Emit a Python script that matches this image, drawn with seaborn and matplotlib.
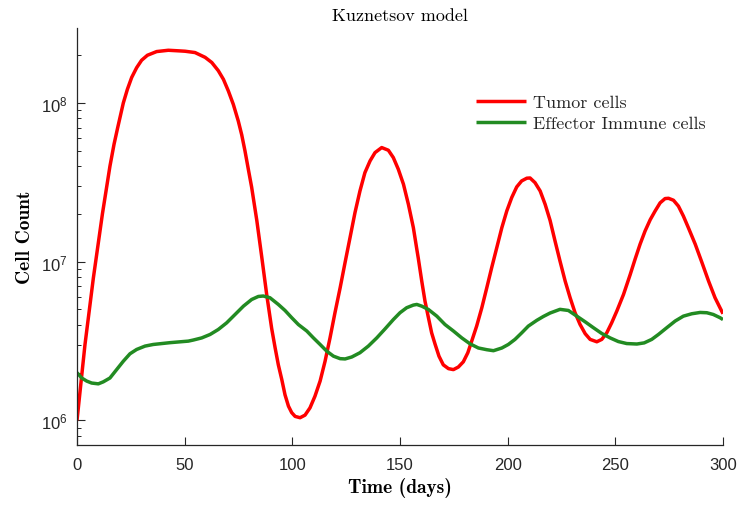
import matplotlib
matplotlib.use("Agg")
import matplotlib.pyplot as plt
import seaborn as sns
import pandas as pd

# --- data ---
t_tumor = [0, 3.7, 7.6, 11.8, 15.3, 17.2, 18.9, 21.5, 23.4, 25.4, 27.7, 30.0,
           32.7, 37.0, 42.4, 47.8, 50.2, 54.8, 59.5, 62.6, 65.6, 68.0, 70.3,
           72.6, 74.9, 76.5, 78.0, 79.6, 81.1, 83.5, 85.8, 88.1, 90.4, 92.0,
           93.5, 95.1, 96.6, 98.2, 99.7, 101.3, 103.6, 105.9, 108.2, 110.5,
           112.9, 115.2, 117.5, 119.8, 122.2, 124.5, 126.8, 129.1, 131.4, 133.7,
           136.1, 138.4, 141.5, 144.6, 146.9, 149.2, 151.6, 153.9, 156.2, 157.8,
           158.5, 160.1, 161.6, 163.2, 164.7, 166.3, 168.1, 170.1, 172.5, 174.8,
           177.1, 179.4, 181.5, 183.3, 185.6, 188.0, 190.3, 192.6, 194.9, 197.3,
           199.6, 201.9, 204.2, 206.5, 208.9, 210.4, 212.7, 215.1, 217.4, 219.7,
           222.0, 224.3, 226.7, 229.0, 231.3, 233.6, 236.0, 238.3, 241.4, 243.7,
           246.0, 248.3, 250.7, 253.8, 256.9, 259.2, 261.5, 263.8, 266.2, 268.5,
           270.8, 273.1, 274.7, 277.0, 279.3, 281.6, 283.9, 287.1, 290.2, 293.3,
           296.3, 298.6, 300.0]
tumor = [1.0e6, 3.0e6, 7.9e6, 2.0e7, 4.0e7, 5.5e7, 7.0e7, 1.0e8, 1.22e8, 1.45e8,
         1.67e8, 1.86e8, 2.0e8, 2.11e8, 2.15e8, 2.13e8, 2.12e8, 2.08e8, 1.94e8,
         1.80e8, 1.60e8, 1.41e8, 1.19e8, 9.8e7, 7.7e7, 6.3e7, 5.0e7, 3.8e7,
         2.95e7, 1.82e7, 1.07e7, 6.2e6, 3.8e6, 2.87e6, 2.24e6, 1.81e6, 1.45e6,
         1.23e6, 1.12e6, 1.06e6, 1.04e6, 1.08e6, 1.20e6, 1.42e6, 1.77e6, 2.36e6,
         3.31e6, 4.77e6, 6.85e6, 9.9e6, 1.42e7, 2.04e7, 2.79e7, 3.64e7, 4.32e7,
         4.87e7, 5.24e7, 5.04e7, 4.53e7, 3.83e7, 3.08e7, 2.30e7, 1.64e7, 1.2e7,
         1.05e7, 7.55e6, 5.65e6, 4.44e6, 3.56e6, 3.02e6, 2.54e6, 2.24e6, 2.12e6,
         2.09e6, 2.17e6, 2.34e6, 2.67e6, 3.16e6, 3.93e6, 5.13e6, 6.85e6, 9.2e6,
         1.22e7, 1.64e7, 2.09e7, 2.54e7, 2.96e7, 3.23e7, 3.36e7, 3.37e7, 3.15e7,
         2.79e7, 2.30e7, 1.82e7, 1.35e7, 1.01e7, 7.55e6, 5.93e6, 4.77e6, 4.03e6,
         3.52e6, 3.24e6, 3.13e6, 3.24e6, 3.56e6, 4.12e6, 4.89e6, 6.22e6, 8.3e6,
         1.04e7, 1.29e7, 1.56e7, 1.84e7, 2.09e7, 2.35e7, 2.50e7, 2.51e7, 2.44e7,
         2.24e7, 1.94e7, 1.64e7, 1.29e7, 9.9e6, 7.55e6, 5.93e6, 5.13e6, 4.70e6]

t_effector = [0, 2.2, 4.5, 6.8, 9.9, 12.2, 15.3, 18.4, 21.5, 24.6, 27.7, 31.6,
              35.4, 43.2, 51.7, 54.0, 57.9, 61.8, 65.6, 69.5, 73.4, 77.3, 81.1,
              84.2, 86.5, 89.6, 93.5, 96.6, 99.7, 102.8, 106.7, 109.8, 112.9,
              116.0, 119.1, 122.2, 124.5, 127.6, 131.4, 135.3, 139.2, 143.1,
              146.9, 150.0, 153.1, 156.2, 157.8, 160.1, 163.2, 167.1, 170.9,
              174.8, 178.7, 182.5, 186.4, 190.3, 193.4, 197.3, 200.3, 203.4,
              206.5, 209.6, 213.5, 216.6, 219.7, 224.3, 228.2, 232.1, 236.0,
              239.8, 243.7, 247.6, 251.4, 255.3, 260.0, 263.4, 266.9, 270.0,
              273.9, 277.8, 281.6, 285.5, 289.4, 292.5, 295.5, 298.6, 300.0]
effector = [2.0e6, 1.85e6, 1.77e6, 1.72e6, 1.70e6, 1.75e6, 1.85e6, 2.09e6, 2.36e6,
            2.63e6, 2.80e6, 2.94e6, 3.01e6, 3.09e6, 3.16e6, 3.21e6, 3.31e6,
            3.48e6, 3.74e6, 4.12e6, 4.65e6, 5.25e6, 5.78e6, 6.04e6, 6.08e6,
            5.93e6, 5.38e6, 4.93e6, 4.44e6, 4.02e6, 3.66e6, 3.31e6, 3.01e6,
            2.73e6, 2.54e6, 2.45e6, 2.44e6, 2.51e6, 2.67e6, 2.94e6, 3.31e6,
            3.78e6, 4.32e6, 4.77e6, 5.13e6, 5.33e6, 5.38e6, 5.25e6, 5.00e6,
            4.54e6, 4.02e6, 3.66e6, 3.31e6, 3.04e6, 2.86e6, 2.79e6, 2.75e6,
            2.86e6, 3.01e6, 3.24e6, 3.56e6, 3.93e6, 4.27e6, 4.52e6, 4.75e6,
            5.01e6, 4.93e6, 4.54e6, 4.18e6, 3.84e6, 3.53e6, 3.31e6, 3.14e6,
            3.05e6, 3.03e6, 3.08e6, 3.24e6, 3.48e6, 3.84e6, 4.23e6, 4.54e6,
            4.70e6, 4.79e6, 4.77e6, 4.65e6, 4.44e6, 4.32e6]

series_names = ["Tumor cells", "Effector Immune cells"]
series_colors = ["#ff0000", "#228b22"]
x_ticks = [0, 50, 100, 150, 200, 250, 300]
title_text = "Kuznetsov model"
x_label = "Time (days)"
y_label = "Cell Count"

# --- styling ---
sns.set_style("ticks")
plt.rcParams["font.family"] = ["Liberation Sans", "DejaVu Sans"]
plt.rcParams["mathtext.default"] = "regular"
axis_color = "#262626"

df = pd.concat([
    pd.DataFrame({"t": t_tumor, "v": tumor, "s": series_names[0]}),
    pd.DataFrame({"t": t_effector, "v": effector, "s": series_names[1]}),
], ignore_index=True)

fig = plt.figure(figsize=(7.38, 5.06), dpi=100)
ax = fig.add_axes([77 / 738, 1 - 446 / 506, 646 / 738, 417 / 506])

sns.lineplot(data=df, x="t", y="v", hue="s", hue_order=series_names,
             palette=series_colors, estimator=None, sort=False,
             linewidth=2.5, ax=ax, legend=False)
for ln in ax.get_lines():
    ln.set_solid_joinstyle("round")
    ln.set_solid_capstyle("butt")

ax.set_yscale("log")
ax.set_ylim(7.0e5, 2.97e8)
ax.set_xlim(0, 300)
ax.set_xticks(x_ticks)
ax.set_xticklabels([str(v) for v in x_ticks])

for side in ["top", "right"]:
    ax.spines[side].set_visible(False)
for side in ["left", "bottom"]:
    ax.spines[side].set_color(axis_color)
    ax.spines[side].set_linewidth(0.9)

ax.tick_params(axis="both", which="major", direction="in", length=5.5,
               width=0.8, color=axis_color, labelcolor=axis_color, labelsize=12)
ax.tick_params(axis="y", which="minor", direction="in", length=3, width=0.7,
               color=axis_color)
ax.tick_params(axis="x", which="major", pad=9)
ax.tick_params(axis="y", which="major", pad=7)

ax.set_title(title_text, fontfamily="cmr10", fontsize=13, color="black", pad=6)
ax.set_xlabel(x_label, fontfamily="cmb10", fontsize=14, color="black", labelpad=3)
ax.set_ylabel(y_label, fontfamily="cmb10", fontsize=14, color="black", labelpad=5)

handles = ax.get_lines()[:2]
leg = ax.legend(handles, series_names, loc="center",
                bbox_to_anchor=(0.796, 0.796), frameon=False,
                prop={"family": "cmr10", "size": 13}, handlelength=2.75,
                handletextpad=0.4, labelspacing=0.3)

fig.savefig("out.png", dpi=100)
